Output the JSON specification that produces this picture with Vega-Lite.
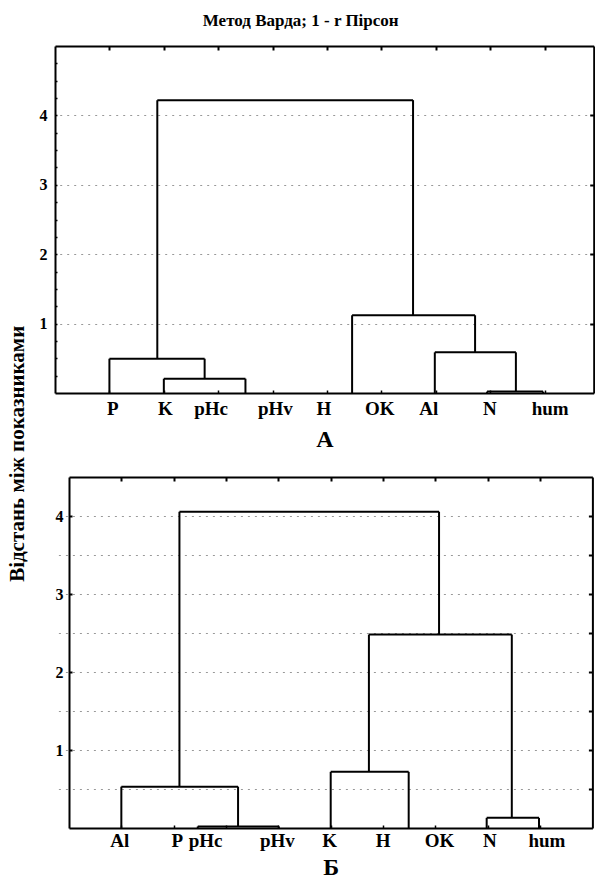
{
  "$schema": "https://vega.github.io/schema/vega-lite/v6.json",
  "padding": {"left": 6, "top": 12, "right": 0, "bottom": 0},
  "background": "white",
  "title": {"text": "Метод Варда; 1 - r Пірсон", "font": "Liberation Serif", "fontSize": 17, "fontWeight": "bold", "color": "black", "anchor": "middle", "offset": 15},
  "config": {
    "font": "Liberation Serif",
    "view": {"stroke": null},
    "axis": {"labelFont": "Liberation Serif", "labelFontWeight": "bold", "labelFontSize": 16, "labelColor": "black", "titleFont": "Liberation Serif", "titleFontWeight": "bold", "titleColor": "black", "domainColor": "black", "domainWidth": 2, "tickColor": "black", "grid": false}
  },
  "datasets": {
    "mergesA": [
      {"h": 0.206, "xl": 2.0, "xr": 3.5, "hl": 0, "hr": 0},
      {"h": 0.494, "xl": 1.0, "xr": 2.75, "hl": 0, "hr": 0.206},
      {"h": 0.02, "xl": 7.94, "xr": 8.97, "hl": 0, "hr": 0},
      {"h": 0.586, "xl": 6.98, "xr": 8.47, "hl": 0, "hr": 0.02},
      {"h": 1.12, "xl": 5.46, "xr": 7.72, "hl": 0, "hr": 0.586},
      {"h": 4.22, "xl": 1.88, "xr": 6.58, "hl": 0.494, "hr": 1.12}
    ],
    "leavesA": [
      {"name": "P", "pos": 1.06}, {"name": "K", "pos": 2.03}, {"name": "pHc", "pos": 2.87},
      {"name": "pHv", "pos": 4.05}, {"name": "H", "pos": 4.94}, {"name": "OK", "pos": 5.97},
      {"name": "Al", "pos": 6.87}, {"name": "N", "pos": 7.99}, {"name": "hum", "pos": 9.1}
    ],
    "mergesB": [
      {"h": 0.02, "xl": 2.46, "xr": 4.01, "hl": 0, "hr": 0},
      {"h": 0.53, "xl": 1.0, "xr": 3.23, "hl": 0, "hr": 0.02},
      {"h": 0.72, "xl": 5.0, "xr": 6.49, "hl": 0, "hr": 0},
      {"h": 0.13, "xl": 7.98, "xr": 8.98, "hl": 0, "hr": 0},
      {"h": 2.48, "xl": 5.73, "xr": 8.46, "hl": 0.72, "hr": 0.13},
      {"h": 4.055, "xl": 2.11, "xr": 7.07, "hl": 0.53, "hr": 2.48}
    ],
    "leavesB": [
      {"name": "Al", "pos": 0.97}, {"name": "P", "pos": 2.07}, {"name": "pHc", "pos": 2.61},
      {"name": "pHv", "pos": 3.98}, {"name": "K", "pos": 4.98}, {"name": "H", "pos": 6.0},
      {"name": "OK", "pos": 7.08}, {"name": "N", "pos": 8.04}, {"name": "hum", "pos": 9.13}
    ]
  },
  "bounds": "flush",
  "spacing": 84,
  "vconcat": [
    {
      "width": 538.7,
      "height": 347,
      "layer": [
        {
          "data": {"name": "mergesA"},
          "mark": {"type": "rule", "color": "black", "strokeWidth": 2},
          "encoding": {
            "x": {"field": "xl", "type": "quantitative", "scale": {"domain": [0, 9.9], "nice": false, "zero": false},
                  "axis": {"orient": "top", "values": [1, 2, 3, 4, 5, 6, 7, 8, 9], "labels": false, "tickSize": -4, "tickWidth": 2, "title": null}},
            "x2": {"field": "xr"},
            "y": {"field": "h", "type": "quantitative", "scale": {"domain": [0, 5], "nice": false, "zero": false},
                  "axis": {"orient": "left", "values": [0.25, 0.5, 0.75, 1, 1.25, 1.5, 1.75, 2, 2.25, 2.5, 2.75, 3, 3.25, 3.5, 3.75, 4, 4.25, 4.5, 4.75],
                           "labelExpr": "datum.value % 1 === 0 ? '' + datum.value : ''", "labelOverlap": false, "tickSize": -2, "tickWidth": 1.5, "labelPadding": 10, "title": null}}
          }
        },
        {
          "data": {"name": "mergesA"},
          "mark": {"type": "rule", "color": "black", "strokeWidth": 2},
          "encoding": {
            "x": {"field": "xl", "type": "quantitative", "scale": {"domain": [0, 9.9], "nice": false, "zero": false}, "axis": null},
            "y": {"field": "hl", "type": "quantitative", "scale": {"domain": [0, 5], "nice": false, "zero": false}, "axis": null},
            "y2": {"field": "h"}
          }
        },
        {
          "data": {"name": "mergesA"},
          "mark": {"type": "rule", "color": "black", "strokeWidth": 2},
          "encoding": {
            "x": {"field": "xr", "type": "quantitative", "scale": {"domain": [0, 9.9], "nice": false, "zero": false}, "axis": null},
            "y": {"field": "hr", "type": "quantitative", "scale": {"domain": [0, 5], "nice": false, "zero": false}, "axis": null},
            "y2": {"field": "h"}
          }
        },
        {
          "data": {"name": "leavesA"},
          "mark": {"type": "text", "font": "Liberation Serif", "fontSize": 19, "fontWeight": "bold", "color": "black", "baseline": "middle", "dy": 16},
          "encoding": {
            "x": {"field": "pos", "type": "quantitative", "scale": {"domain": [0, 9.9], "nice": false, "zero": false},
                  "axis": {"orient": "bottom", "values": [1, 2, 3, 4, 5, 6, 7, 8, 9], "labels": false, "tickSize": -3, "tickWidth": 1.5,
                           "title": "А", "titleFontSize": 24, "titleY": 46, "titleBaseline": "middle"}},
            "y": {"datum": 0, "type": "quantitative", "scale": {"domain": [0, 5], "nice": false, "zero": false},
                  "axis": {"orient": "right", "values": [1, 2, 3, 4], "labels": false, "tickSize": -4, "tickWidth": 2,
                           "grid": true, "gridDash": [2, 5], "gridColor": "#999999", "gridWidth": 1, "title": null}},
            "text": {"field": "name", "type": "nominal"}
          }
        }
      ],
      "resolve": {"axis": {"x": "independent", "y": "independent"}}
    },
    {
      "width": 537.4,
      "height": 351,
      "layer": [
        {
          "data": {"name": "mergesB"},
          "mark": {"type": "rule", "color": "black", "strokeWidth": 2},
          "encoding": {
            "x": {"field": "xl", "type": "quantitative", "scale": {"domain": [0, 10], "range": [14, 537.4], "nice": false, "zero": false},
                  "axis": {"orient": "top", "values": [1, 2, 3, 4, 5, 6, 7, 8, 9], "labels": false, "tickSize": -4, "tickWidth": 2, "title": null}},
            "x2": {"field": "xr"},
            "y": {"field": "h", "type": "quantitative", "scale": {"domain": [0, 4.5], "nice": false, "zero": false},
                  "axis": {"orient": "left", "offset": -14, "values": [1, 2, 3, 4], "tickSize": -3, "tickWidth": 2, "labelPadding": 9,
                           "title": "Відстань між показниками", "titleFontSize": 21, "titleAngle": 270, "titleX": -51.3, "titleY": -23.7, "titleBaseline": "middle", "titleAlign": "center"}}
          }
        },
        {
          "data": {"name": "mergesB"},
          "mark": {"type": "rule", "color": "black", "strokeWidth": 2},
          "encoding": {
            "x": {"field": "xl", "type": "quantitative", "scale": {"domain": [0, 10], "range": [14, 537.4], "nice": false, "zero": false}, "axis": null},
            "y": {"field": "hl", "type": "quantitative", "scale": {"domain": [0, 4.5], "nice": false, "zero": false}, "axis": null},
            "y2": {"field": "h"}
          }
        },
        {
          "data": {"name": "mergesB"},
          "mark": {"type": "rule", "color": "black", "strokeWidth": 2},
          "encoding": {
            "x": {"field": "xr", "type": "quantitative", "scale": {"domain": [0, 10], "range": [14, 537.4], "nice": false, "zero": false}, "axis": null},
            "y": {"field": "hr", "type": "quantitative", "scale": {"domain": [0, 4.5], "nice": false, "zero": false}, "axis": null},
            "y2": {"field": "h"}
          }
        },
        {
          "data": {"name": "leavesB"},
          "mark": {"type": "text", "font": "Liberation Serif", "fontSize": 19, "fontWeight": "bold", "color": "black", "baseline": "middle", "dy": 13},
          "encoding": {
            "x": {"field": "pos", "type": "quantitative", "scale": {"domain": [0, 10], "range": [14, 537.4], "nice": false, "zero": false},
                  "axis": {"orient": "bottom", "values": [1, 2, 3, 4, 5, 6, 7, 8, 9], "labels": false, "tickSize": -3, "tickWidth": 1.5,
                           "title": "Б", "titleFontSize": 24, "titleY": 39, "titleBaseline": "middle"}},
            "y": {"datum": 0, "type": "quantitative", "scale": {"domain": [0, 4.5], "nice": false, "zero": false},
                  "axis": {"orient": "right", "values": [0.5, 1, 1.5, 2, 2.5, 3, 3.5, 4], "labels": false, "tickSize": -4, "tickWidth": 2,
                           "grid": true, "gridDash": [2, 5], "gridColor": "#999999", "gridWidth": 1, "title": null}},
            "text": {"field": "name", "type": "nominal"}
          }
        }
      ],
      "resolve": {"axis": {"x": "independent", "y": "independent"}}
    }
  ]
}
